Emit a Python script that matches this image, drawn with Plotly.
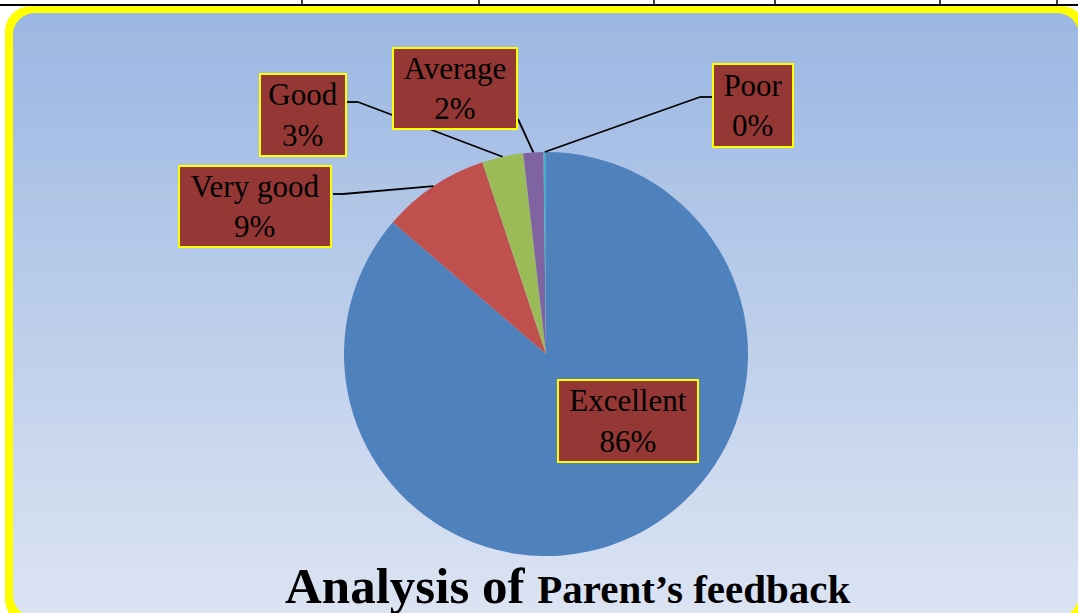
import numpy as np
import plotly.graph_objects as go

# ---------------- data ----------------
categories = ["Excellent", "Very good", "Good", "Average", "Poor"]
values = [86.3, 8.6, 3.3, 1.6, 0.2]
slice_colors = ["#4F81BD", "#C0504D", "#9BBB59", "#8064A2", "#4BACC6"]
title_main = "Analysis of"
title_sub = "Parent’s feedback"

# ---------------- layout constants (pixels) ----------------
W, H = 1078, 613
CX, CY, R = 546, 354, 202          # pie centre / radius in px
FONT = "Liberation Serif"

label_box = {   # centre x, centre y, width, height
    "Excellent": (628, 421, 142, 84),
    "Very good": (255, 206.5, 154, 83),
    "Good": (303, 115, 88, 84),
    "Average": (455, 88.5, 126, 83),
    "Poor": (753, 105.5, 82, 85),
}
leader_start = {
    "Very good": [(333, 194), (343, 194)],
    "Good": [(347, 102), (358, 102)],
    "Average": [(518, 119)],
    "Poor": [(712, 97), (700, 97)],
}


def px(x):
    return x / W


def py(y):
    return 1 - y / H


def rounded_path(x0, y0, x1, y1, r):
    k = 0.5523 * r
    pts = [
        f"M {px(x0 + r)},{py(y0)}",
        f"L {px(x1 - r)},{py(y0)}",
        f"C {px(x1 - r + k)},{py(y0)} {px(x1)},{py(y0 + r - k)} {px(x1)},{py(y0 + r)}",
        f"L {px(x1)},{py(y1 - r)}",
        f"C {px(x1)},{py(y1 - r + k)} {px(x1 - r + k)},{py(y1)} {px(x1 - r)},{py(y1)}",
        f"L {px(x0 + r)},{py(y1)}",
        f"C {px(x0 + r - k)},{py(y1)} {px(x0)},{py(y1 - r + k)} {px(x0)},{py(y1 - r)}",
        f"L {px(x0)},{py(y0 + r)}",
        f"C {px(x0)},{py(y0 + r - k)} {px(x0 + r - k)},{py(y0)} {px(x0 + r)},{py(y0)}",
        "Z",
    ]
    return " ".join(pts)


def corner_patch(cx, cy, sx, sy, r):
    # region between square corner (cx,cy) and quarter arc of radius r
    k = 0.5523 * r
    ax, ay = cx + sx * r, cy
    bx, by = cx, cy + sy * r
    return (f"M {px(cx)},{py(cy)} L {px(ax)},{py(ay)} "
            f"C {px(ax - sx * k)},{py(ay)} {px(bx)},{py(by - sy * k)} {px(bx)},{py(by)} Z")


shapes = []

# table lines at the top
shapes.append(dict(type="line", xref="paper", yref="paper", x0=0, x1=1,
                   y0=py(5), y1=py(5), line=dict(color="black", width=2), layer="below"))
for tx in [302, 479, 654, 775, 940, 1057]:
    shapes.append(dict(type="line", xref="paper", yref="paper", x0=px(tx), x1=px(tx),
                       y0=py(0), y1=py(5), line=dict(color="black", width=1.5), layer="below"))

# yellow frame
shapes.append(dict(type="path", xref="paper", yref="paper",
                   path=rounded_path(5, 6, 1087, 625, 26),
                   fillcolor="#FFFF00", line=dict(width=0), layer="below"))

# gradient background bands
IX0, IY0, IX1, IY1, IR = 13, 13, 1079, 617, 22
top_c = np.array([155, 183, 227])
bot_c = np.array([220, 228, 243])
n_bands = 120
edges = np.linspace(IY0, IY1, n_bands + 1)
for i in range(n_bands):
    t = i / (n_bands - 1)
    c = (top_c + (bot_c - top_c) * t).round().astype(int)
    shapes.append(dict(type="rect", xref="paper", yref="paper",
                       x0=px(IX0), x1=px(IX1), y0=py(edges[i + 1] + 0.6), y1=py(edges[i]),
                       fillcolor=f"rgb({c[0]},{c[1]},{c[2]})", line=dict(width=0), layer="below"))

# rounded inner corners (yellow masks)
for cx, cy, sx, sy in [(IX0, IY0, 1, 1), (IX1, IY0, -1, 1), (IX0, IY1, 1, -1), (IX1, IY1, -1, -1)]:
    shapes.append(dict(type="path", xref="paper", yref="paper",
                       path=corner_patch(cx, cy, sx, sy, IR),
                       fillcolor="#FFFF00", line=dict(width=0), layer="below"))

# leader lines, ending at the middle of each slice on the pie rim
vals = np.array(values, dtype=float)
fracs = vals / vals.sum()
mid_deg = (np.cumsum(fracs) - fracs / 2) * 360.0
for cat, ang in zip(categories, mid_deg):
    if cat not in leader_start:
        continue
    a = np.deg2rad(ang)
    ex, ey = CX + R * np.sin(a), CY - R * np.cos(a)
    pts = leader_start[cat] + [(ex, ey)]
    for (x0, y0), (x1, y1) in zip(pts[:-1], pts[1:]):
        shapes.append(dict(type="line", xref="paper", yref="paper",
                           x0=px(x0), y0=py(y0), x1=px(x1), y1=py(y1),
                           line=dict(color="black", width=1.8), layer="above"))

# labels
annotations = []
for cat, f in zip(categories, fracs):
    bx, by, bw, bh = label_box[cat]
    annotations.append(dict(
        xref="paper", yref="paper", x=px(bx), y=py(by), xanchor="center", yanchor="middle",
        text=f"{cat}<br>{round(f * 100):d}%", showarrow=False,
        font=dict(family=FONT, size=31, color="black"),
        bgcolor="#953735", bordercolor="#FFFF00", borderwidth=2, borderpad=0,
        width=bw - 4, height=bh - 4, align="center", valign="middle"))

# title
annotations.append(dict(
    xref="paper", yref="paper", x=px(568), y=py(586), xanchor="center", yanchor="middle",
    text=f"<b>{title_main}</b> <b><span style='font-size:41px'>{title_sub}</span></b>",
    showarrow=False, font=dict(family=FONT, size=51, color="black")))

fig = go.Figure(go.Pie(
    labels=categories, values=values, sort=False, direction="clockwise", rotation=0,
    marker=dict(colors=slice_colors, line=dict(width=0)),
    textinfo="none", hoverinfo="label+percent", showlegend=False,
    domain=dict(x=[px(CX - R), px(CX + R)], y=[py(CY + R), py(CY - R)]),
))

fig.update_layout(
    width=W, height=H, margin=dict(l=0, r=0, t=0, b=0),
    paper_bgcolor="white", plot_bgcolor="white",
    shapes=shapes, annotations=annotations, showlegend=False,
)

fig.write_html(
    "out.html",
    config={"displayModeBar": False},
    post_script="document.body.style.margin='0';document.body.style.padding='0';",
)
